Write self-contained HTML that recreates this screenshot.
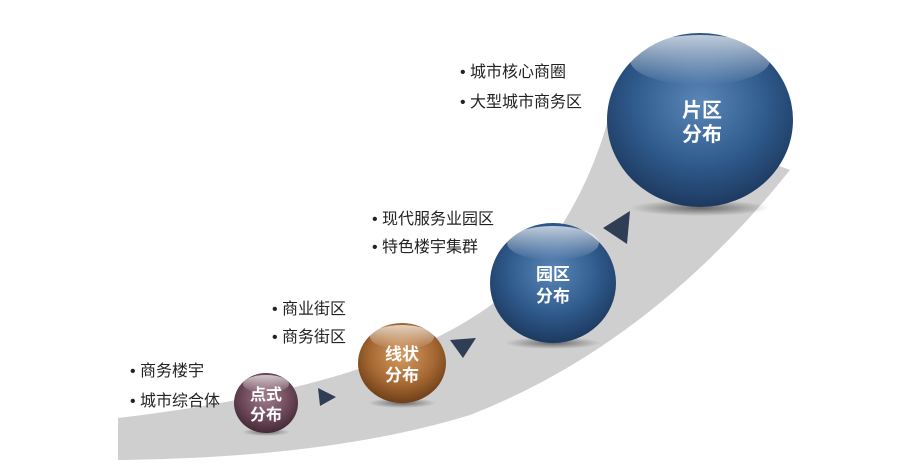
<!DOCTYPE html>
<html><head><meta charset="utf-8"><style>
body{margin:0;background:#fff;}
svg{display:block;font-family:"Liberation Sans","Noto Sans CJK SC",sans-serif;}
</style></head><body>
<svg width="900" height="469" viewBox="0 0 900 469" xmlns="http://www.w3.org/2000/svg">
<defs>
<radialGradient id="gb" cx="50%" cy="40%" r="60%">
<stop offset="0" stop-color="#5a86b8"/><stop offset="0.6" stop-color="#2f5a8c"/><stop offset="1" stop-color="#1d3a60"/></radialGradient>
<radialGradient id="go" cx="50%" cy="40%" r="60%">
<stop offset="0" stop-color="#d59a62"/><stop offset="0.6" stop-color="#a86a34"/><stop offset="1" stop-color="#6e3f18"/></radialGradient>
<radialGradient id="gp" cx="50%" cy="40%" r="60%">
<stop offset="0" stop-color="#a07d8c"/><stop offset="0.6" stop-color="#6e4a5a"/><stop offset="1" stop-color="#442a36"/></radialGradient>
<linearGradient id="hl" x1="0" y1="0" x2="0" y2="1">
<stop offset="0" stop-color="#fff" stop-opacity="0.7"/><stop offset="1" stop-color="#fff" stop-opacity="0"/></linearGradient>
<radialGradient id="sh"><stop offset="0" stop-color="#000" stop-opacity="0.5"/><stop offset="1" stop-color="#000" stop-opacity="0"/></radialGradient>
</defs>
<path d="M118,418 Q400,385 510,290 Q585,215 612,105 L790,170 Q650,345 470,415 Q330,458 118,460 Z" fill="#cfcfcf"/>
<g font-size="16" fill="#222">
<text x="130" y="376">•  商务楼宇</text>
<text x="130" y="406">•  城市综合体</text>
<text x="272" y="314">•  商业街区</text>
<text x="272" y="342">•  商务街区</text>
<text x="372" y="224">•  现代服务业园区</text>
<text x="372" y="252">•  特色楼宇集群</text>
<text x="460" y="77">•  城市核心商圈</text>
<text x="460" y="107">•  大型城市商务区</text>
</g>
<g fill="#2f3e55">
<polygon points="318,388 336,397 320,406"/>
<polygon points="450,340 476,338 463,358"/>
<polygon points="630,211 603,228 627,244"/>
</g>
<ellipse cx="700" cy="208" rx="70" ry="8" fill="url(#sh)"/>
<ellipse cx="700" cy="120" rx="93" ry="87" fill="url(#gb)"/>
<ellipse cx="700" cy="60" rx="70" ry="25" fill="url(#hl)"/>
<ellipse cx="553" cy="343" rx="48" ry="6" fill="url(#sh)"/>
<ellipse cx="553" cy="283" rx="63" ry="60" fill="url(#gb)"/>
<ellipse cx="553" cy="243" rx="46" ry="17" fill="url(#hl)"/>
<ellipse cx="402" cy="403" rx="34" ry="5" fill="url(#sh)"/>
<ellipse cx="402" cy="363" rx="44" ry="40" fill="url(#go)"/>
<ellipse cx="402" cy="337" rx="32" ry="12" fill="url(#hl)"/>
<ellipse cx="266" cy="432" rx="24" ry="4" fill="url(#sh)"/>
<ellipse cx="266" cy="403" rx="32" ry="30" fill="url(#gp)"/>
<ellipse cx="266" cy="384" rx="23" ry="9" fill="url(#hl)"/>
<g fill="#fff" font-weight="bold" text-anchor="middle">
<text x="702" y="117" font-size="20">片区</text><text x="702" y="141" font-size="20">分布</text>
<text x="553" y="280" font-size="17">园区</text><text x="553" y="302" font-size="17">分布</text>
<text x="402" y="360" font-size="17">线状</text><text x="402" y="381" font-size="17">分布</text>
<text x="266" y="400" font-size="16">点式</text><text x="266" y="420" font-size="16">分布</text>
</g>
</svg>
</body></html>
